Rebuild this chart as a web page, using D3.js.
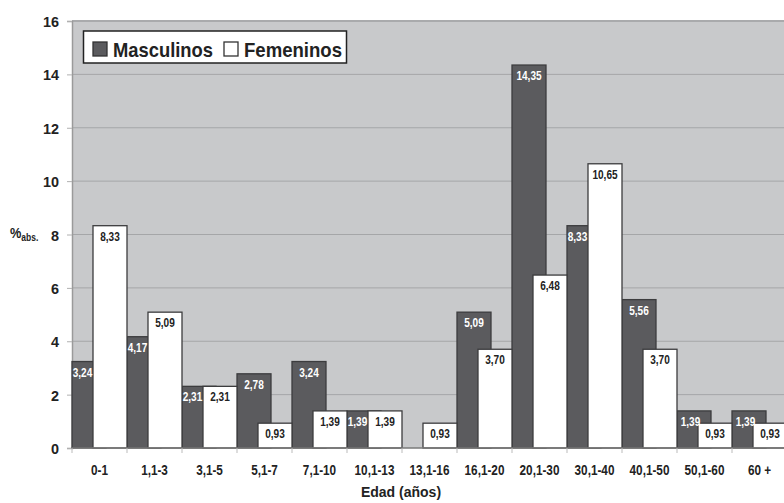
<!DOCTYPE html>
<html><head><meta charset="utf-8">
<script src="https://cdn.jsdelivr.net/npm/d3@7"></script>
<style>
body{margin:0;background:#fff;}
svg{display:block;}
.narrow{font-family:"Liberation Sans Narrow","Arial Narrow","Liberation Sans",sans-serif;font-weight:bold;}
.sans{font-family:"Liberation Sans",Arial,sans-serif;font-weight:bold;}
</style></head>
<body>
<svg id="chart" width="784" height="503"></svg>
<script>
const categories = ["0-1","1,1-3","3,1-5","5,1-7","7,1-10","10,1-13","13,1-16","16,1-20","20,1-30","30,1-40","40,1-50","50,1-60","60 +"];
const masculinos = [3.24,4.17,2.31,2.78,3.24,1.39,0,5.09,14.35,8.33,5.56,1.39,1.39];
const femeninos  = [8.33,5.09,2.31,0.93,1.39,1.39,0.93,3.70,6.48,10.65,3.70,0.93,0.93];
const yTicks = [0,2,4,6,8,10,12,14,16];
const seriesNames = ["Masculinos","Femeninos"];

(function(){
const svg = d3.select("#chart");
const pL = 72, pT = 21, pB = 448, step = 55;
const SX = 0.84; // horizontal condensing for narrow text
const x = d3.scaleBand().domain(categories).range([pL, pL + step*categories.length]).padding(0);
const y = d3.scaleLinear().domain([0,16]).range([pB, pT]);
const bw = x.bandwidth()*34/55, fOff = x.bandwidth()*21/55;

const fmt = v => v.toFixed(2).replace(".", ",");

// plot background
svg.append("rect").attr("x", pL).attr("y", pT).attr("width", 784-pL).attr("height", pB-pT).attr("fill", "#c8c9cb");

// gridlines
svg.append("g").selectAll("line").data(yTicks.filter(t=>t>0 && t<16)).join("line")
  .attr("x1", pL).attr("x2", 784).attr("y1", d=>y(d)).attr("y2", d=>y(d))
  .attr("stroke", "#a5a6a8").attr("stroke-width", 1);
svg.append("line").attr("x1", pL).attr("x2", 784).attr("y1", y(16)).attr("y2", y(16))
  .attr("stroke", "#a9aaac").attr("stroke-width", 2);

// y axis
const yAxis = svg.append("g").attr("transform", `translate(${pL},0)`)
  .call(d3.axisLeft(y).tickValues(yTicks).tickSize(5).tickPadding(0).tickFormat(d3.format("d")));
yAxis.select(".domain").attr("stroke", "#9a9a9a").attr("stroke-width", 1.5);
yAxis.selectAll(".tick line").attr("stroke", "#b0b0b0");
yAxis.selectAll(".tick text").attr("class","sans").attr("font-size", 15.5).attr("fill", "#222")
  .attr("x", 0).attr("dy","0.36em").attr("transform", "translate(-13,0) scale(0.93,1)");

// male bars
svg.append("g").selectAll("rect").data(categories.map((c,i)=>({c, v:masculinos[i]})).filter(d=>d.v>0)).join("rect")
  .attr("x", d=>x(d.c)).attr("y", d=>y(d.v)).attr("width", bw).attr("height", d=>pB - y(d.v))
  .attr("fill", "#5b5b5e").attr("stroke", "#3c3c3e").attr("stroke-width", 1.3);

// female bars
svg.append("g").selectAll("rect").data(categories.map((c,i)=>({c, v:femeninos[i]}))).join("rect")
  .attr("x", d=>x(d.c)+fOff).attr("y", d=>y(d.v)).attr("width", bw).attr("height", d=>pB - y(d.v))
  .attr("fill", "#ffffff").attr("stroke", "#3c3c3e").attr("stroke-width", 1.3);

// male labels
svg.append("g").selectAll("text").data(categories.map((c,i)=>({c, v:masculinos[i], f:femeninos[i]})).filter(d=>d.v>0)).join("text")
  .attr("class","narrow").attr("font-size", 12).attr("fill", "#fff").attr("text-anchor","middle")
  .attr("transform", d=> `translate(${x(d.c) + (d.f >= d.v ? 10.5 : (d.v - d.f < 1 ? 13.5 : 17))},${y(d.v) + 15}) scale(${SX},1)`)
  .text(d=>fmt(d.v));

// female labels
svg.append("g").selectAll("text").data(categories.map((c,i)=>({c, v:femeninos[i]}))).join("text")
  .attr("class","narrow").attr("font-size", 12).attr("fill", "#222").attr("text-anchor","middle")
  .attr("transform", d=> `translate(${x(d.c) + fOff + bw/2},${y(d.v) + 15}) scale(${SX},1)`)
  .text(d=>fmt(d.v));

// x axis
const xAxis = svg.append("g").attr("transform", `translate(0,${pB})`)
  .call(d3.axisBottom(x).tickSize(0).tickPadding(0));
xAxis.select(".domain").remove();
svg.append("line").attr("x1", pL).attr("x2", 784).attr("y1", pB).attr("y2", pB).attr("stroke","#7a7a7a").attr("stroke-width",1.5);
svg.append("g").selectAll("line").data(categories).join("line")
  .attr("x1", d=>x(d)).attr("x2", d=>x(d)).attr("y1", pB).attr("y2", pB+5).attr("stroke","#bbb");
xAxis.selectAll(".tick text").attr("class","narrow").attr("font-size", 14).attr("fill","#222")
  .attr("y", 0).attr("dy", 0).attr("transform", `translate(0,27) scale(${SX},1)`);

// axis titles
svg.append("text").attr("class","sans").attr("x", 401).attr("y", 497).attr("text-anchor","middle")
  .attr("font-size", 14).attr("fill","#222").text("Edad (años)");
const yl = svg.append("text").attr("class","sans").attr("x", 10).attr("y", 238).attr("fill","#222").attr("font-size", 15)
  .attr("transform", "translate(10,238) scale(0.85,1) translate(-10,-238)");
yl.append("tspan").text("%");
yl.append("tspan").attr("font-size", 10).attr("dy", 3).text("abs.");

// legend
const lg = svg.append("g");
lg.append("rect").attr("x", 83.5).attr("y", 31).attr("width", 263).attr("height", 32)
  .attr("fill","#fff").attr("stroke","#222").attr("stroke-width",1.5);
const items = [{n:seriesNames[0], fill:"#5b5b5e", sx:93, tx:113, tw:100},{n:seriesNames[1], fill:"#fff", sx:224, tx:244, tw:98}];
items.forEach(it=>{
  lg.append("rect").attr("x", it.sx).attr("y", 42).attr("width", 14).attr("height", 14)
    .attr("fill", it.fill).attr("stroke","#333").attr("stroke-width",1.3);
  lg.append("text").attr("class","narrow").attr("x", it.tx).attr("y", 56.7).attr("font-size", 21)
    .attr("fill","#222").attr("textLength", it.tw).attr("lengthAdjust","spacingAndGlyphs").text(it.n);
});
})();
</script>
</body></html>
